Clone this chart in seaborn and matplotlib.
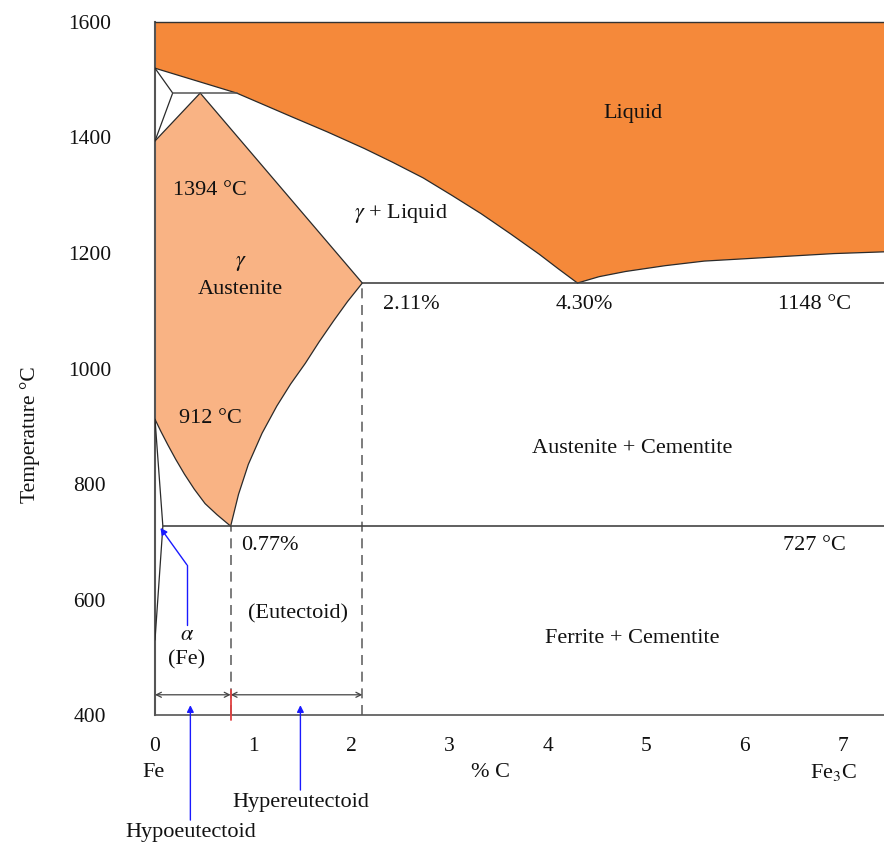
import matplotlib
matplotlib.use("Agg")
import matplotlib.pyplot as plt
import seaborn as sns

# Phase boundaries of the Fe–Fe3C system: carbon content (% C) vs temperature (°C)
liquidus_fe_c = [0.0, 0.83, 1.39, 1.75, 2.13, 2.42, 2.73, 3.02, 3.32, 3.62, 3.91, 4.11, 4.30]
liquidus_fe_t = [1520, 1477, 1436, 1410, 1381, 1357, 1330, 1300, 1268, 1233, 1198, 1172, 1148]
liquidus_cem_c = [4.30, 4.52, 4.79, 5.19, 5.59, 6.00, 6.40, 6.91, 7.42]
liquidus_cem_t = [1148, 1159, 1168, 1178, 1186, 1190, 1194, 1199, 1202]

solidus_c = [0.46, 2.11]
solidus_t = [1477, 1148]
a3_c = [0.0, 0.06, 0.13, 0.21, 0.30, 0.40, 0.51, 0.63, 0.77]
a3_t = [912, 891, 868, 843, 817, 791, 766, 747, 727]
acm_c = [0.77, 0.85, 0.95, 1.09, 1.24, 1.38, 1.53, 1.67, 1.82, 1.96, 2.11]
acm_t = [727, 782, 834, 888, 935, 973, 1009, 1046, 1083, 1116, 1148]

delta_c = [0.0, 0.18, 0.0]
delta_t = [1520, 1477, 1394]
delta_gamma_c = [0.46, 0.0]
delta_gamma_t = [1477, 1394]
peritectic_c = [0.18, 0.83]
peritectic_t = [1477, 1477]
alpha_c = [0.0, 0.08, 0.0]
alpha_t = [912, 727, 530]

eutectic_c = [2.11, 7.42]
eutectic_t = [1148, 1148]
eutectoid_c = [0.08, 7.42]
eutectoid_t = [727, 727]

x_ticks = [0, 1, 2, 3, 4, 5, 6, 7]
y_ticks = [400, 600, 800, 1000, 1200, 1400, 1600]
c_max = 7.42
t_min, t_max = 400, 1600

liquid_color = "#F5893A"
austenite_color = "#F9B384"
edge = "#2a2a2a"

sns.set_theme(style="white")
plt.rcParams["font.family"] = ["Liberation Serif", "DejaVu Serif"]
plt.rcParams["mathtext.fontset"] = "stix"
plt.rcParams["font.size"] = 16

fig = plt.figure(figsize=(8.84, 8.46), dpi=100)
ax = fig.add_axes([155 / 884, 131 / 846, 729 / 884, 693 / 846])

# liquid region
liq_x = [0.0] + liquidus_fe_c + liquidus_cem_c[1:] + [c_max]
liq_y = [t_max] + liquidus_fe_t + liquidus_cem_t[1:] + [t_max]
ax.fill(liq_x, liq_y, color=liquid_color, lw=0, zorder=1)

# austenite region
aus_x = [0.0, solidus_c[0], solidus_c[1]] + acm_c[::-1][1:] + a3_c[::-1][1:]
aus_y = [delta_gamma_t[1], solidus_t[0], solidus_t[1]] + acm_t[::-1][1:] + a3_t[::-1][1:]
ax.fill(aus_x, aus_y, color=austenite_color, lw=0, zorder=1)

def boundary(xs, ys, color=edge, lw=0.9, **kw):
    sns.lineplot(x=xs, y=ys, sort=False, estimator=None, color=color,
                 lw=lw, ax=ax, zorder=3, **kw)

boundary(liquidus_fe_c, liquidus_fe_t)
boundary(liquidus_cem_c, liquidus_cem_t)
boundary(solidus_c, solidus_t)
boundary(a3_c, a3_t)
boundary(acm_c, acm_t)
boundary(delta_c, delta_t)
boundary(delta_gamma_c, delta_gamma_t)
boundary(peritectic_c, peritectic_t, color="#555555", lw=1.1)
boundary(alpha_c, alpha_t)
boundary(eutectic_c, eutectic_t, color="#444444", lw=1.2)
boundary(eutectoid_c, eutectoid_t, color="#444444", lw=1.2)

# top edge of the liquid field
ax.plot([0, c_max], [t_max, t_max], color="#333333", lw=1.0, clip_on=False, zorder=3)

# dashed composition markers
ax.plot([acm_c[0]] * 2, [t_min, acm_t[0]], color="#666666", lw=1.2,
        ls=(0, (6, 4)), zorder=2)
ax.plot([acm_c[-1]] * 2, [t_min, acm_t[-1]], color="#666666", lw=1.2,
        ls=(0, (6, 4)), zorder=2)

# hypo/hyper-eutectoid ranges
arrow_y = 435
ax.annotate("", xy=(0.0, arrow_y), xytext=(acm_c[0], arrow_y),
            arrowprops=dict(arrowstyle="<->", color="#444444", lw=0.9,
                            shrinkA=0, shrinkB=0, mutation_scale=9))
ax.annotate("", xy=(acm_c[0], arrow_y), xytext=(acm_c[-1], arrow_y),
            arrowprops=dict(arrowstyle="<->", color="#444444", lw=0.9,
                            shrinkA=0, shrinkB=0, mutation_scale=9))
ax.plot([acm_c[0]] * 2, [443, 391], color="#e04040", lw=1.3, clip_on=False, zorder=4)

# blue pointers
blue = "#1a1aff"
ax.plot([0.325, 0.325], [556, 660], color=blue, lw=1.0, zorder=4)
ax.annotate("", xy=(0.055, 724), xytext=(0.325, 660),
            arrowprops=dict(arrowstyle="-|>", color=blue, lw=1.0,
                            shrinkA=0, shrinkB=0, mutation_scale=10))
ax.annotate("", xy=(0.36, 417), xytext=(0.36, 218),
            arrowprops=dict(arrowstyle="-|>", color=blue, lw=1.0,
                            shrinkA=0, shrinkB=0, mutation_scale=10),
            annotation_clip=False)
ax.annotate("", xy=(1.48, 417), xytext=(1.48, 270),
            arrowprops=dict(arrowstyle="-|>", color=blue, lw=1.0,
                            shrinkA=0, shrinkB=0, mutation_scale=10),
            annotation_clip=False)

# field and point labels
def label(x, y, s, **kw):
    ax.text(x, y, s, ha="center", va="center", color="#111111", zorder=5, **kw)

label(4.86, 1442, "Liquid")
label(2.50, 1269, r"$\gamma$ + Liquid")
label(0.56, 1309, "1394 °C")
label(0.87, 1181, r"$\gamma$")
label(0.87, 1136, "Austenite")
label(0.56, 914, "912 °C")
label(2.61, 1110, "2.11%")
label(4.37, 1110, "4.30%")
label(6.71, 1110, "1148 °C")
label(1.17, 693, "0.77%")
label(6.71, 693, "727 °C")
label(4.86, 861, "Austenite + Cementite")
label(1.46, 575, "(Eutectoid)")
label(4.86, 533, "Ferrite + Cementite")
label(0.325, 537, r"$\alpha$")
label(0.325, 495, "(Fe)")
label(-0.02, 300, "Fe")
label(3.41, 300, "% C")
label(6.91, 300, r"Fe$_3$C")
label(1.48, 249, "Hypereutectoid")
label(0.36, 197, "Hypoeutectoid")

ax.set_xlim(0, c_max)
ax.set_ylim(t_min, t_max)
ax.set_xticks(x_ticks)
ax.set_yticks(y_ticks)
ax.set_xticklabels([str(v) for v in x_ticks])
ax.set_yticklabels([str(v) for v in y_ticks])
for t in ax.get_yticklabels():
    t.set_ha("center")
ax.tick_params(axis="x", length=0, pad=16, labelsize=15.5, labelcolor="#111111")
ax.tick_params(axis="y", length=0, pad=47, labelsize=15.5, labelcolor="#111111")
ax.set_xlabel("")
ax.set_ylabel("Temperature °C", fontsize=15.5, color="#111111")
ax.yaxis.set_label_coords(-0.158, 0.404)

for side in ["top", "right"]:
    ax.spines[side].set_visible(False)
ax.spines["left"].set_color("#555555")
ax.spines["left"].set_linewidth(1.5)
ax.spines["bottom"].set_color("#555555")
ax.spines["bottom"].set_linewidth(1.2)
ax.set_facecolor("white")

fig.savefig("out.png", dpi=100)
